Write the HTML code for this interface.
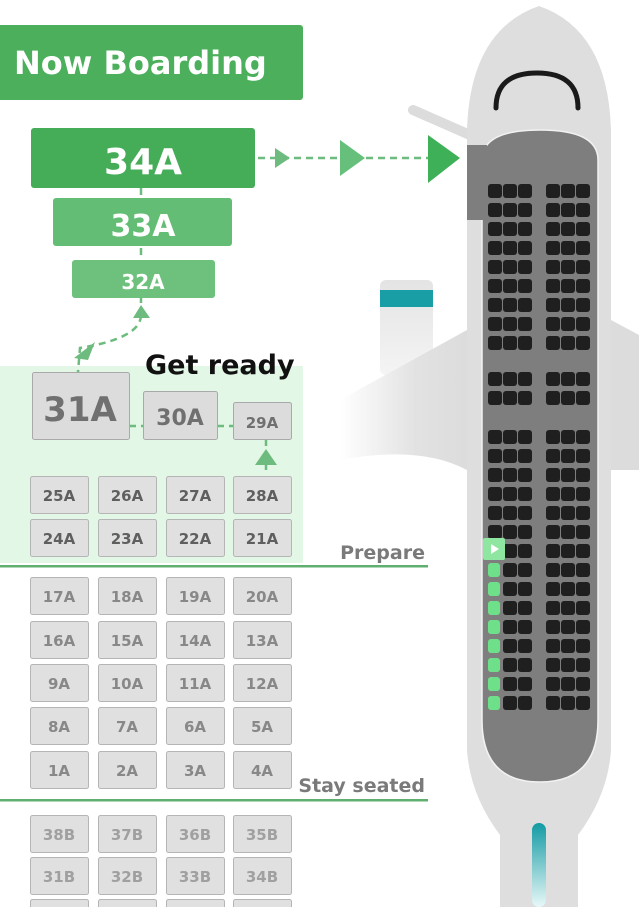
<!DOCTYPE html>
<html><head><meta charset="utf-8"><style>
html,body{margin:0;padding:0;background:#fff;}
svg{display:block}
text{font-family:"DejaVu Sans","Liberation Sans",sans-serif;font-weight:bold}
</style></head><body>
<svg width="639" height="907" viewBox="0 0 639 907" xmlns="http://www.w3.org/2000/svg">
<defs>
<linearGradient id="wing" x1="0" x2="1" y1="0" y2="0">
<stop offset="0" stop-color="#fff"/><stop offset="0.6" stop-color="#e2e2e2"/><stop offset="1" stop-color="#dcdcdc"/>
</linearGradient>
<linearGradient id="teal" x1="0" x2="0" y1="0" y2="1">
<stop offset="0" stop-color="#139aa3"/><stop offset="1" stop-color="#e8f8f8"/>
</linearGradient>
<linearGradient id="eng" x1="0" x2="0" y1="0" y2="1">
<stop offset="0" stop-color="#e4e4e4"/><stop offset="1" stop-color="#f4f4f4"/>
</linearGradient>
</defs>
<rect x="380" y="280" width="53" height="95" rx="6" fill="url(#eng)"/>
<rect x="380" y="290" width="53" height="17" fill="#1a9ea6"/>
<path d="M340 400 L467 330 L467 470 Q420 445 340 460 Z" fill="url(#wing)"/>
<path d="M611 320 L639 335 L639 470 L611 470 Z" fill="#dcdcdc"/>
<line x1="413" y1="110" x2="470" y2="135" stroke="#dcdcdc" stroke-width="10" stroke-linecap="round"/>
<path d="M467 130 Q470 30 539 6 Q608 30 611 130 L611 750 Q608 795 578 835 L578 907 L500 907 L500 835 Q470 795 467 750 Z" fill="#dedede"/>
<path d="M482 160 Q482 130 540 130 Q598 130 598 160 L598 720 Q598 782 540 782 Q482 782 482 720 Z" fill="#7e7e7e" stroke="#f2f2f2" stroke-width="1.5"/>
<rect x="467" y="145" width="20" height="75" fill="#7e7e7e"/>
<path d="M496 108 Q496 73 537 73 Q578 73 578 108" fill="none" stroke="#1a1a1a" stroke-width="5" stroke-linecap="round"/>
<rect x="532" y="823" width="14" height="84" rx="7" fill="url(#teal)"/>
<g fill="#1f1f1f">
<g id="seatrows"></g>
</g>
<script>
(function(){
var g=document.getElementById('seatrows');var ns='http://www.w3.org/2000/svg';
var rows=[184,203,222,241,260,279,298,317,336,372,391];
for(var y=430;y<=697;y+=19)rows.push(y);
var xs=[488,503,518,546,561,576];
rows.forEach(function(y,ri){xs.forEach(function(x,ci){
var r=document.createElementNS(ns,'rect');r.setAttribute('x',x);r.setAttribute('y',y);r.setAttribute('width',14);r.setAttribute('height',14);r.setAttribute('rx',3);
if(ci==0&&y>=563){r.setAttribute('fill','#6fe08a');r.setAttribute('width',12);}
g.appendChild(r);});});
})();
</script>
<rect x="483" y="538" width="22" height="22" rx="2" fill="#8ee6a0"/>
<path d="M491 544 L499 549 L491 554 Z" fill="#fff"/>
<rect x="0" y="366" width="303" height="197" fill="#e2f7e5"/>
<g stroke="#6dbb7e" stroke-width="2.5" stroke-dasharray="7,5" fill="none">
<line x1="258" y1="158" x2="460" y2="158"/>
<line x1="141" y1="188" x2="141" y2="310"/>
<path d="M141 315 Q141 338 80 348 L78 372"/>
<line x1="129" y1="426" x2="143" y2="426"/>
<line x1="217" y1="426" x2="233" y2="426"/>
<line x1="266" y1="439" x2="266" y2="470"/>
</g>
<path d="M275 148 L290 158 L275 168 Z" fill="#6dbb7e"/>
<path d="M340 140 L365 158 L340 176 Z" fill="#66c07c"/>
<path d="M428 135 L460 158 L428 183 Z" fill="#3eb058"/>
<path d="M133 318 L141 305 L150 318 Z" fill="#6dbb7e"/>
<path d="M74 358 L95 342 L88 360 Z" fill="#6dbb7e"/>
<path d="M255 465 L266 449 L277 465 Z" fill="#6dbb7e"/>
<rect x="-4" y="25" width="307" height="75" rx="3" fill="#4caf5c"/>
<text x="14" y="74" font-size="32" fill="#fff">Now Boarding</text>
<rect x="31" y="128" width="224" height="60" rx="3" fill="#45ad58"/>
<text x="143" y="174" font-size="36" fill="#fff" text-anchor="middle">34A</text>
<rect x="53" y="198" width="179" height="48" rx="3" fill="#64bd74"/>
<text x="143" y="236" font-size="30" fill="#fff" text-anchor="middle">33A</text>
<rect x="72" y="260" width="143" height="38" rx="3" fill="#6dc17c"/>
<text x="143" y="289" font-size="20" fill="#fff" text-anchor="middle">32A</text>
<text x="145" y="374" font-size="27" fill="#111">Get ready</text>
<g fill="#dcdcdc" stroke="#a9a9a9" stroke-width="1">
<rect x="32.5" y="372.5" width="97" height="67" rx="2"/>
<rect x="143.5" y="391.5" width="74" height="48" rx="2"/>
<rect x="233.5" y="402.5" width="58" height="37" rx="2"/>
</g>
<text x="80" y="421" font-size="34" fill="#707070" text-anchor="middle">31A</text>
<text x="180" y="425" font-size="22" fill="#707070" text-anchor="middle">30A</text>
<text x="262" y="428" font-size="15" fill="#707070" text-anchor="middle">29A</text>
<g id="grid"></g>
<script>
(function(){
var g=document.getElementById('grid');var ns='http://www.w3.org/2000/svg';
var xs=[30,98,166,233];
var rows=[[476,['25A','26A','27A','28A'],'#5f5f5f'],[519,['24A','23A','22A','21A'],'#5f5f5f'],
[577,['17A','18A','19A','20A'],'#888'],[621,['16A','15A','14A','13A'],'#888'],[664,['9A','10A','11A','12A'],'#888'],
[707,['8A','7A','6A','5A'],'#888'],[751,['1A','2A','3A','4A'],'#888'],
[815,['38B','37B','36B','35B'],'#a0a0a0'],[857,['31B','32B','33B','34B'],'#a0a0a0'],[899,['','','',''],'#a0a0a0']];
rows.forEach(function(r){xs.forEach(function(x,i){
var b=document.createElementNS(ns,'rect');b.setAttribute('x',x+0.5);b.setAttribute('y',r[0]+0.5);b.setAttribute('width',58);b.setAttribute('height',37);b.setAttribute('rx',2);
b.setAttribute('fill','#e0e0e0');b.setAttribute('stroke','#b5b5b5');g.appendChild(b);
var t=document.createElementNS(ns,'text');t.setAttribute('x',x+29);t.setAttribute('y',r[0]+25);t.setAttribute('font-size','15');t.setAttribute('text-anchor','middle');t.setAttribute('fill',r[2]);t.textContent=r[1][i];g.appendChild(t);
});});
})();
</script>
<rect x="0" y="565" width="428" height="2.5" fill="#5fb070"/>
<rect x="0" y="799" width="428" height="2.5" fill="#5fb070"/>
<text x="425" y="559" font-size="19" fill="#7a7a7a" text-anchor="end">Prepare</text>
<text x="425" y="792" font-size="19" fill="#7a7a7a" text-anchor="end">Stay seated</text>
</svg>
</body></html>
